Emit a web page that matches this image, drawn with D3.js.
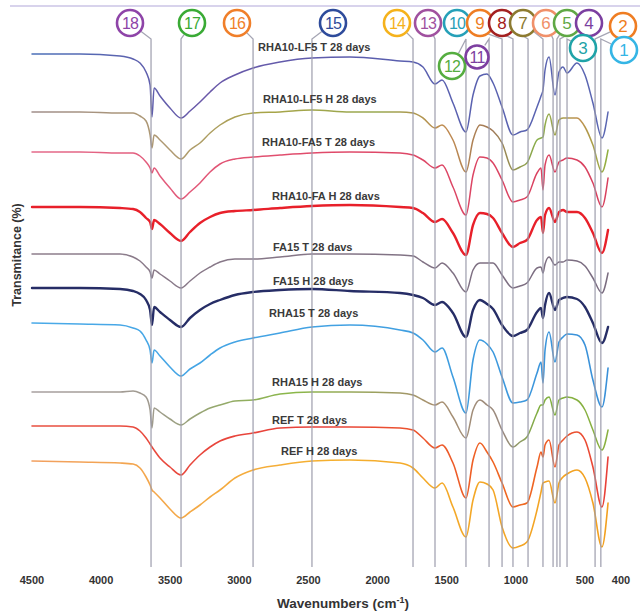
<!DOCTYPE html>
<html><head><meta charset="utf-8">
<script src="https://cdn.jsdelivr.net/npm/d3@7"></script>
<style>body{margin:0;background:#fff} svg{display:block}</style>
</head><body><svg id="c" width="640" height="614"></svg>
<script>
// ---------- DATA ----------
const wavenumbers = [4500,4153,3863,3769,3719,3675,3646,3632,3617,3574,
  3502,3422,3357,3285,3212,3140,3032,2901,2706,2475,
  2200,1838,1744,1672,1585,1534,1455,1361,1310,1260,
  1209,1165,1100,1021,970,920,847,818,804,789,
  760,717,688,659,630,558,500,478,453,436];

const seriesNames = ["RHA10-LF5 T 28 days","RHA10-LF5 H 28 days","RHA10-FA5 T 28 days","RHA10-FA H 28 davs",
  "FA15 T 28 davs","FA15 H 28 days","RHA15 T 28 days","RHA15 H 28 days","REF T 28 days","REF H 28 days"];

const rha10lf5T = [51.6,51.6,51.4,51.1,50.7,49.8,48.5,45.3,48.2,47.4, 46.2,45.2,45.9,46.8,47.8,48.7,49.5,50.2,50.8,51.2, 51.3,50.9,50.8,50.3,48.6,49.0,46.7,43.8,47.5,49.4, 49.6,48.7,46.3,43.5,43.8,44.0,46.3,47.4,48.0,50.0, 51.3,47.5,49.8,50.3,49.7,50.7,49.5,46.7,43.2,45.8];
const rha10lf5H = [45.8,45.8,45.7,45.7,45.4,44.9,43.5,42.2,43.5,43.0, 42.0,41.1,42.0,42.7,43.7,44.5,45.3,45.7,45.8,46.0, 45.8,45.8,45.7,45.2,44.2,44.5,43.0,39.8,43.0,44.5, 44.3,43.9,42.7,40.0,40.3,40.7,43.0,43.2,43.3,44.5, 45.6,43.5,45.0,45.2,45.2,45.2,44.3,42.5,39.8,42.0];
const rha10fa5T = [41.8,41.8,41.7,41.7,41.4,40.8,40.2,39.7,40.2,39.4, 38.2,37.1,37.8,38.7,39.8,40.6,41.1,41.3,41.5,41.7, 41.8,41.7,41.5,41.0,40.2,40.5,38.3,35.5,39.5,41.3, 41.2,40.7,39.0,36.8,37.0,37.3,39.7,40.2,38.0,40.5, 41.5,39.8,40.8,41.0,41.2,41.0,40.3,38.7,36.3,39.2];
const rha10faH = [36.3,36.3,36.2,36.1,35.8,35.2,34.8,34.1,35.0,34.6, 33.7,32.9,33.8,34.7,35.3,35.7,35.9,36.0,36.2,36.4, 36.5,36.3,36.2,35.7,34.8,35.1,33.7,31.5,34.5,35.7, 35.6,35.2,33.7,32.3,32.7,33.0,35.0,35.3,33.7,35.5, 36.2,34.8,35.8,36.0,35.8,35.8,35.2,33.7,31.7,34.0];
const fa15T = [31.6,31.6,31.6,31.3,30.9,30.3,29.8,29.2,30.0,29.6, 28.9,28.2,28.9,29.7,30.3,30.8,31.1,31.1,31.3,31.6, 31.6,31.5,31.4,30.8,30.2,30.7,29.7,27.8,30.0,30.7, 30.7,30.7,29.5,28.2,28.4,28.7,30.2,30.3,29.7,30.6, 31.3,30.5,30.8,30.8,31.0,30.9,30.4,29.2,27.7,29.7];
const fa15H = [28.2,28.2,28.1,27.9,27.6,27.0,26.0,24.5,26.3,25.8, 25.0,24.3,25.2,26.0,26.6,27.0,27.5,27.8,28.0,28.1, 27.9,27.7,27.5,27.2,26.5,26.8,25.7,23.3,26.0,27.0, 26.6,26.1,24.5,23.4,23.7,24.0,25.8,26.2,25.2,26.5, 27.7,26.0,27.0,27.2,27.3,27.1,26.3,24.7,22.7,24.3];
const rha15T = [24.7,24.6,24.5,24.2,23.9,23.0,22.0,20.7,22.0,21.4, 20.3,19.4,20.1,20.7,21.5,22.2,22.8,23.2,23.7,24.3, 24.5,24.0,23.7,23.0,21.8,22.2,19.3,15.7,21.0,23.0, 22.6,21.8,19.3,16.7,16.8,17.0,19.7,20.8,18.7,22.0, 23.8,20.8,22.8,23.3,23.6,23.5,22.5,19.0,16.3,20.2];
const rha15H = [17.8,17.8,17.8,17.9,17.7,17.3,16.0,14.2,16.2,15.8, 15.1,14.5,15.1,15.7,16.2,16.5,16.9,17.0,17.6,17.8, 17.8,17.7,17.5,17.0,16.5,16.8,15.3,13.2,16.0,17.0, 16.5,16.0,14.0,12.3,12.8,13.3,15.7,16.5,16.5,17.0, 17.3,15.5,17.0,17.2,17.3,17.0,16.0,14.0,12.0,14.0];
const refT = [14.4,14.4,14.4,14.3,13.9,13.2,12.6,12.3,12.0,11.2, 10.3,9.5,10.5,11.5,12.3,12.9,13.4,13.7,14.2,14.3, 14.3,14.2,14.0,13.2,12.2,12.5,10.7,7.2,11.0,12.7, 11.8,10.8,8.7,6.3,6.5,6.7,10.3,11.8,11.3,12.5, 13.0,10.3,12.5,13.0,13.4,13.8,13.0,10.3,6.3,11.3];
const refH = [10.9,10.8,10.7,10.6,10.2,9.3,8.5,8.0,7.8,7.2, 6.1,5.2,5.8,6.5,7.3,8.0,9.2,10.0,10.5,10.9, 11.0,10.7,10.2,9.2,8.2,8.7,6.3,3.3,7.0,8.8, 8.6,8.0,4.3,2.2,2.4,2.8,6.0,7.8,8.7,8.8, 8.9,6.7,8.7,9.3,9.6,10.0,9.2,6.7,2.3,6.7];

const seriesValues = [rha10lf5T,rha10lf5H,rha10fa5T,rha10faH,fa15T,fa15H,rha15T,rha15H,refT,refH];

const peakNumbers     = [18,17,16,15,14,13,12,11,10,9,8,7,6,5,4,3,2,1];
const peakWavenumbers = [3639,3422,2901,2475,1744,1585,1361,1194,1100,1021,912,804,731,703,681,630,472,456];

const tickValues = [4500,4000,3500,3000,2500,2000,1500,1000,500,400];

// ---------- STYLE / LAYOUT ----------
const seriesStyle = [
  {w:1.5, stops:[[0,"#4b70b8"],[0.3,"#6a58a8"],[0.6,"#5a5eae"],[1,"#5a66b2"]]},
  {w:1.5, stops:[[0,"#a08e8a"],[0.25,"#b09a70"],[0.4,"#a8a448"],[0.6,"#98a850"],[0.72,"#c08a50"],[0.8,"#a07a58"],[0.88,"#88b04a"],[0.95,"#c09050"],[1,"#90b040"]]},
  {w:1.5, stops:[[0,"#e46a8a"],[0.5,"#e04a6a"],[1,"#d8405e"]]},
  {w:2.4, stops:[[0,"#e8202a"],[1,"#e8202a"]]},
  {w:1.5, stops:[[0,"#8e7e8c"],[1,"#7a6c80"]]},
  {w:2.4, stops:[[0,"#262d66"],[1,"#262d66"]]},
  {w:1.6, stops:[[0,"#4aaae8"],[0.7,"#3f9ee0"],[1,"#3a90d8"]]},
  {w:1.5, stops:[[0,"#a8a0a0"],[0.2,"#a09a90"],[0.45,"#8ab848"],[0.7,"#a89070"],[0.82,"#9a8a80"],[0.88,"#80b040"],[1,"#8ab040"]]},
  {w:1.6, stops:[[0,"#e85040"],[0.5,"#e8403a"],[0.85,"#f06a20"],[1,"#e8403a"]]},
  {w:1.6, stops:[[0,"#f2a060"],[0.5,"#f5b030"],[1,"#f2a020"]]}
];
const labelPos = [[258,51],[263,103],[262,146],[272,200],[273,251],[273,285],[269,317],[272,386],[272,424],[281,455]];

const badgeColor = {18:"#8e44a8",17:"#3aaa35",16:"#f07f2a",15:"#2e4b9b",14:"#f5b21c",13:"#a0519f",12:"#55ad40",11:"#7d3fa0",
  10:"#26a0b8",9:"#ee7d24",8:"#a32020",7:"#8c7a30",6:"#f0906a",5:"#5fa845",4:"#7b3fa0",3:"#1fa3a8",2:"#ef7d22",1:"#35b5e5"};
const badgePos = {18:[130,23],17:[192,23],16:[237,23],15:[333,23],14:[397,23],13:[428,23],12:[452,66],11:[477,57],
  10:[457,23],9:[480,23],8:[502,23],7:[523,23],6:[546,23],5:[567,23],4:[589,23],3:[583,48],2:[623,26],1:[624,50]};
const lineTop = 39, lineBottom = 567;

// ---------- DRAW ----------
const svg = d3.select("#c");
const x = d3.scaleLinear().domain([4500,500,400]).range([32,585,621]);
const y = d3.scaleLinear().domain([0,56]).range([570,10]);

svg.append("line").attr("x1",10).attr("x2",640).attr("y1",6).attr("y2",6)
  .attr("stroke","#cbc4e6").attr("stroke-width",1.6);

const defs = svg.append("defs");
seriesStyle.forEach((s,i)=>{
  const g = defs.append("linearGradient").attr("id","g"+i).attr("gradientUnits","userSpaceOnUse")
    .attr("x1",x(4500)).attr("x2",x(436)).attr("y1",0).attr("y2",0);
  s.stops.forEach(st=>g.append("stop").attr("offset",st[0]).attr("stop-color",st[1]));
});

const line = d3.line().x(d=>x(d[0])).y(d=>y(d[1])).curve(d3.curveMonotoneX);
seriesValues.forEach((vals,i)=>{
  const pts = wavenumbers.map((w,j)=>[w,vals[j]]);
  svg.append("path").attr("d",line(pts)).attr("fill","none")
    .attr("stroke","url(#g"+i+")").attr("stroke-width",seriesStyle[i].w)
    .attr("stroke-linejoin","round").attr("stroke-linecap","round");
});

// vertical peak lines + leaders
const gl = svg.append("g").attr("stroke","#9c9cac").attr("stroke-width",1.3).attr("fill","none").attr("opacity",0.9);
const R = 13;
peakNumbers.forEach((n,i)=>{
  const px = x(peakWavenumbers[i]);
  const [cx,cy] = badgePos[n];
  const dx = px-cx, dy = lineTop-cy, L = Math.hypot(dx,dy);
  const sx = cx + dx/L*(R+1), sy = cy + dy/L*(R+1);
  gl.append("path").attr("d",`M${sx},${sy}L${px},${lineTop}L${px},${lineBottom}`);
});

// badges
peakNumbers.forEach(n=>{
  const [cx,cy] = badgePos[n];
  const r = n===11 ? 11.5 : R;
  const g = svg.append("g");
  g.append("circle").attr("cx",cx).attr("cy",cy).attr("r",r).attr("fill","#fff")
    .attr("stroke",badgeColor[n]).attr("stroke-width",2.6);
  g.append("text").attr("x",cx).attr("y",cy+6).attr("text-anchor","middle")
    .attr("font-family","Liberation Sans, Arial, sans-serif").attr("font-size", n>9?16:17)
    .attr("letter-spacing", n>9?-0.8:0)
    .attr("fill",badgeColor[n]).text(n);
});

// series labels
seriesNames.forEach((t,i)=>{
  svg.append("text").attr("x",labelPos[i][0]).attr("y",labelPos[i][1])
    .attr("font-family","Liberation Sans, Arial, sans-serif").attr("font-size",11).attr("font-weight","bold")
    .attr("fill","#3a3a3a").text(t);
});

// x tick labels
svg.append("g").selectAll("text").data(tickValues).join("text")
  .attr("x",d=>x(d)).attr("y",584).attr("text-anchor","middle")
  .attr("font-family","Liberation Sans, Arial, sans-serif").attr("font-size",11).attr("font-weight","bold")
  .attr("fill","#333").text(d=>d);

// axis titles
const xt = svg.append("text").attr("x",343).attr("y",608).attr("text-anchor","middle")
  .attr("font-family","Liberation Sans, Arial, sans-serif").attr("font-size",13.5).attr("font-weight","bold").attr("fill","#333");
xt.append("tspan").text("Wavenumbers (cm");
xt.append("tspan").attr("font-size",9).attr("dy",-5).text("-1");
xt.append("tspan").attr("dy",5).text(")");

svg.append("text").attr("transform","translate(21,255) rotate(-90)").attr("text-anchor","middle")
  .attr("font-family","Liberation Sans, Arial, sans-serif").attr("font-size",12.5).attr("font-weight","bold")
  .attr("fill","#333").text("Transmitance (%)");
</script></body></html>
